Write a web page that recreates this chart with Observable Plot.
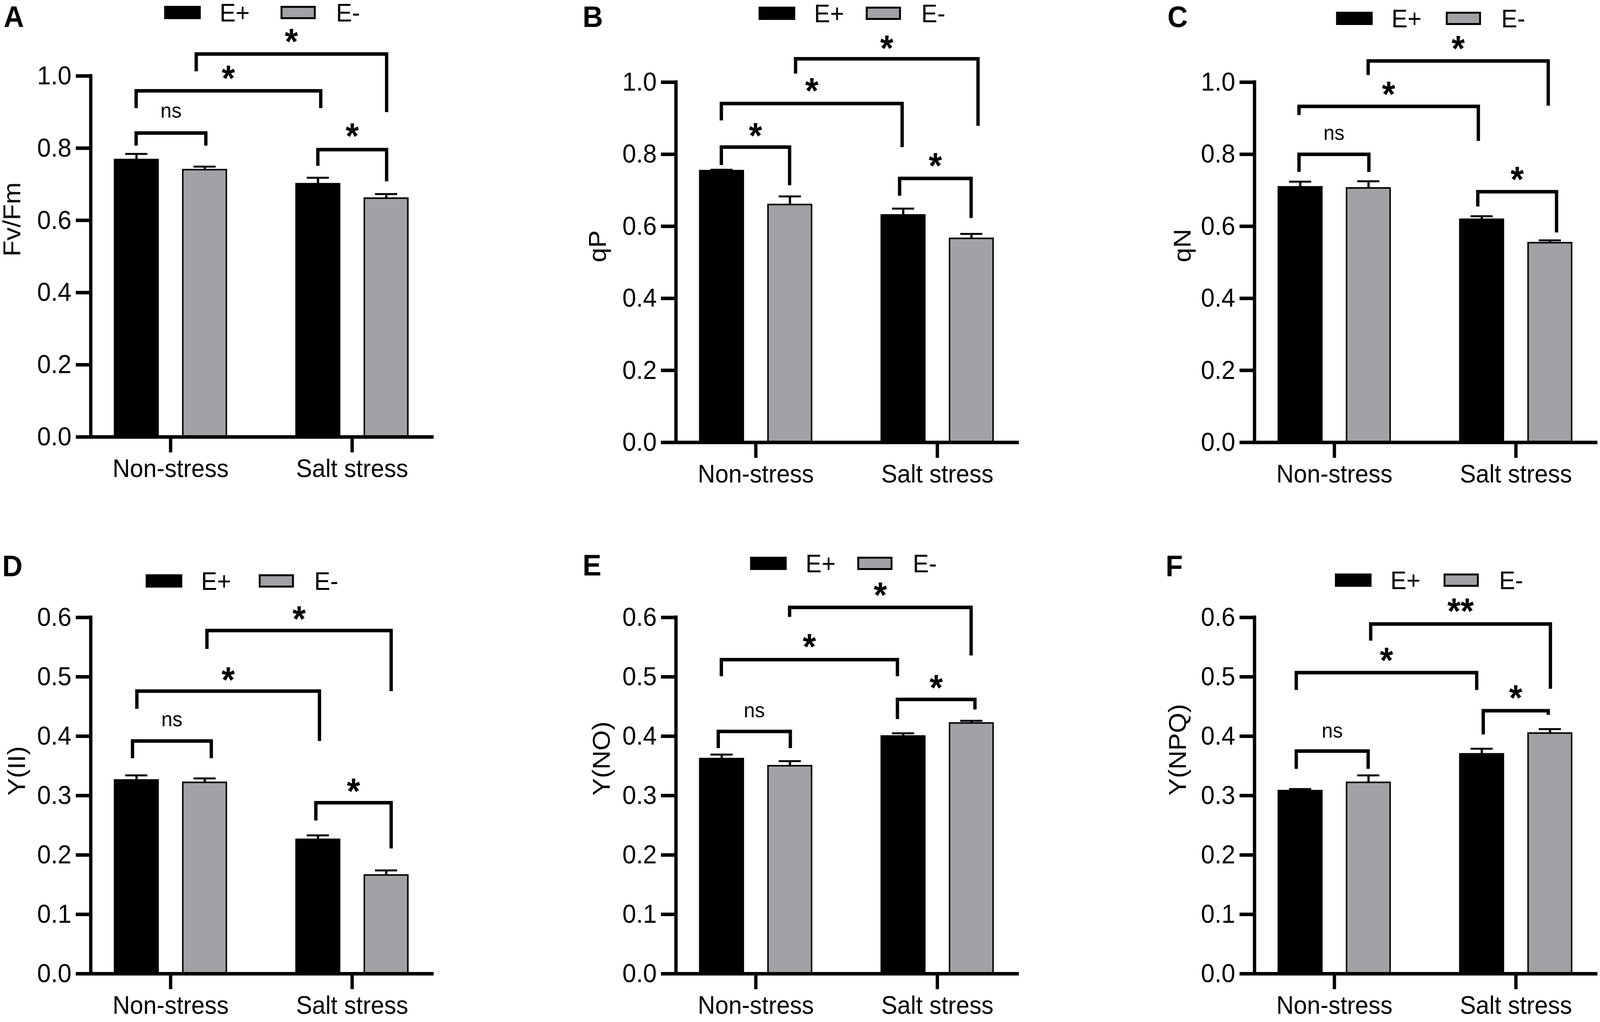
<!DOCTYPE html>
<html><head><meta charset="utf-8">
<script src="https://cdn.jsdelivr.net/npm/d3@7"></script>
<script src="https://cdn.jsdelivr.net/npm/@observablehq/plot@0.6"></script>
<style>
html,body{margin:0;padding:0;background:#fff;overflow:hidden;}
body{font-family:"Liberation Sans",Arial,sans-serif;}
#stage{position:absolute;left:0;top:0;width:4328px;height:2616px;transform-origin:0 0;background:#fff;}
.abs{position:absolute;line-height:1;white-space:nowrap;color:#000;}
.sw{position:absolute;box-sizing:border-box;}
</style></head><body>
<div id="stage"></div>
<script>
// ---------- data ----------
const groups = ["Non-stress", "Salt stress"];
const seriesNames = ["E+", "E-"];
const yTicksTop = [0, 0.2, 0.4, 0.6, 0.8, 1.0];
const yTicksBottom = [0, 0.1, 0.2, 0.3, 0.4, 0.5, 0.6];

// means per group [Non-stress, Salt stress] and SD (error bar length)
const fvfmEplus = [0.768, 0.701];  const fvfmEplusSD = [0.016, 0.017];
const fvfmEminus = [0.740, 0.661]; const fvfmEminusSD = [0.009, 0.012];
const qpEplus = [0.754, 0.631];    const qpEplusSD = [0.003, 0.018];
const qpEminus = [0.660, 0.566];   const qpEminusSD = [0.023, 0.013];
const qnEplus = [0.709, 0.619];    const qnEplusSD = [0.015, 0.009];
const qnEminus = [0.706, 0.554];   const qnEminusSD = [0.019, 0.007];
const y2Eplus = [0.326, 0.226];    const y2EplusSD = [0.008, 0.007];
const y2Eminus = [0.322, 0.166];   const y2EminusSD = [0.007, 0.008];
const ynoEplus = [0.362, 0.400];   const ynoEplusSD = [0.007, 0.005];
const ynoEminus = [0.350, 0.422];  const ynoEminusSD = [0.008, 0.004];
const ynpqEplus = [0.308, 0.370];  const ynpqEplusSD = [0.003, 0.009];
const ynpqEminus = [0.322, 0.405]; const ynpqEminusSD = [0.012, 0.007];

// significance brackets: [barA, barB, bracket level, leg end A, leg end B, label, label level]
// bar index: 0 Non-stress E+, 1 Non-stress E-, 2 Salt stress E+, 3 Salt stress E-
const fvfmBrackets = [[0,1,0.842,0.807,0.807,"ns",0.903],[0,2,0.959,0.911,0.911,"*",1.016],[1,3,1.061,1.013,0.900,"*",1.117],[2,3,0.796,0.751,0.708,"*",0.855]];
const qpBrackets   = [[0,1,0.820,0.770,0.714,"*",0.874],[0,2,0.941,0.894,0.820,"*",0.998],[1,3,1.065,1.024,0.879,"*",1.117],[2,3,0.733,0.685,0.623,"*",0.790]];
const qnBrackets   = [[0,1,0.800,0.751,0.751,"ns",0.859],[0,2,0.933,0.909,0.837,"*",0.989],[1,3,1.059,1.020,0.935,"*",1.115],[2,3,0.696,0.655,0.583,"*",0.752]];
const y2Brackets   = [[0,1,0.392,0.363,0.363,"ns",0.428],[0,2,0.476,0.446,0.392,"*",0.508],[1,3,0.578,0.547,0.476,"*",0.611],[2,3,0.288,0.258,0.211,"*",0.321]];
const ynoBrackets  = [[0,1,0.408,0.380,0.380,"ns",0.443],[0,2,0.529,0.501,0.501,"*",0.564],[1,3,0.617,0.601,0.536,"*",0.651],[2,3,0.462,0.429,0.445,"*",0.495]];
const ynpqBrackets = [[0,1,0.375,0.345,0.345,"ns",0.409],[0,2,0.507,0.478,0.478,"*",0.541],[1,3,0.589,0.561,0.480,"**",0.624],[2,3,0.443,0.403,0.436,"*",0.478]];

const panels = [
  {letter:"A", ylabel:"Fv/Fm",  ymax:1.0, ticks:yTicksTop,    ep:fvfmEplus, epSD:fvfmEplusSD, em:fvfmEminus, emSD:fvfmEminusSD, br:fvfmBrackets},
  {letter:"B", ylabel:"qP",     ymax:1.0, ticks:yTicksTop,    ep:qpEplus,   epSD:qpEplusSD,   em:qpEminus,   emSD:qpEminusSD,   br:qpBrackets},
  {letter:"C", ylabel:"qN",     ymax:1.0, ticks:yTicksTop,    ep:qnEplus,   epSD:qnEplusSD,   em:qnEminus,   emSD:qnEminusSD,   br:qnBrackets},
  {letter:"D", ylabel:"Y(II)",  ymax:0.6, ticks:yTicksBottom, ep:y2Eplus,   epSD:y2EplusSD,   em:y2Eminus,   emSD:y2EminusSD,   br:y2Brackets},
  {letter:"E", ylabel:"Y(NO)",  ymax:0.6, ticks:yTicksBottom, ep:ynoEplus,  epSD:ynoEplusSD,  em:ynoEminus,  emSD:ynoEminusSD,  br:ynoBrackets},
  {letter:"F", ylabel:"Y(NPQ)", ymax:0.6, ticks:yTicksBottom, ep:ynpqEplus, epSD:ynpqEplusSD, em:ynpqEminus, emSD:ynpqEminusSD, br:ynpqBrackets}
];

// ---------- layout (pixels / styling) ----------
const layout = [
  {axisX:245,  top:194,  bottom:1118, svgTop:0,    legBlack:444,  legGray:759,  legTop:15,   letterX:10,   letterCY:42,   ylab:-212, nudges:[[-0.002,0.006],[-0.002,0.015],[-0.047,0.002],[-0.001,0.002]]},
  {axisX:1828, top:210,  bottom:1132, svgTop:0,    legBlack:2052, legGray:2342, legTop:17,   letterX:1576, letterCY:42,   ylab:-211, nudges:[[-0.002,-0.002],[-0.002,-0.006],[0.031,0.036],[-0.02,-0.002]]},
  {axisX:3393, top:210,  bottom:1132, svgTop:0,    legBlack:3614, legGray:3911, legTop:30,   letterX:3158, letterCY:42,   ylab:-194, nudges:[[-0.007,0.002],[-0.007,-0.019],[-0.002,-0.01],[-0.022,0.036]]},
  {axisX:245,  top:1580, bottom:2492, svgTop:1350, legBlack:394,  legGray:700,  legTop:1470, letterX:6,    letterCY:1448, ylab:-199, nudges:[[-0.022,0.036],[0.002,0.008],[0.012,0.027],[-0.012,0.027]]},
  {axisX:1828, top:1580, bottom:2492, svgTop:1350, legBlack:2029, legGray:2319, legTop:1425, letterX:1576, letterCY:1446, ylab:-201, nudges:[[-0.019,0.002],[-0.002,-0.032],[-0.002,-0.002],[-0.032,0.019]]},
  {axisX:3393, top:1580, bottom:2492, svgTop:1350, legBlack:3611, legGray:3905, legTop:1468, letterX:3153, letterCY:1448, ylab:-207, nudges:[[-0.022,-0.002],[-0.022,-0.028],[0.012,0.002],[0.008,-0.01]]}
];

const FONT = "'Liberation Sans', Arial, Helvetica, sans-serif";
const GRAY = "#a2a2a6";
const xmin = -0.44, xmax = 1.45, unitPx = 491;
const barOffset = [-0.188, 0.188];
const barW = 0.24, capHalf = 0.061;
const ML = 245, frameW = Math.round((xmax - xmin) * unitPx);

const stage = document.getElementById("stage");
function fitStage() {
  const sx = window.innerWidth / 4328, sy = window.innerHeight / 2616;
  stage.style.transform = "scale(" + sx + "," + sy + ")";
}
fitStage();
window.addEventListener("resize", fitStage);

function barPos(i) { return Math.floor(i / 2) + barOffset[i % 2]; }

function addDiv(cls, left, top, css, text) {
  const d = document.createElement("div");
  d.className = cls;
  d.style.left = left + "px"; d.style.top = top + "px";
  Object.assign(d.style, css || {});
  if (text != null) d.textContent = text;
  stage.appendChild(d);
  return d;
}

panels.forEach((p, pi) => {
  const L = layout[pi];
  const bars = [];
  groups.forEach((g, gi) => {
    bars.push({g, s: "E+", pos: gi + barOffset[0], v: p.ep[gi], sd: p.epSD[gi]});
    bars.push({g, s: "E-", pos: gi + barOffset[1], v: p.em[gi], sd: p.emSD[gi]});
  });
  const bk = p.br.map(([a, b, yh, ya, yb, label, ly], k) => {
    const [na, nb] = L.nudges[k];
    const xa = barPos(a) + na, xb = barPos(b) + nb;
    return {id: k, xa, xb, yh, ya, yb, label, ly, xm: (xa + xb) / 2};
  });
  const pts = bk.flatMap(d => [
    {id: d.id, x: d.xa, y: d.ya}, {id: d.id, x: d.xa, y: d.yh},
    {id: d.id, x: d.xb, y: d.yh}, {id: d.id, x: d.xb, y: d.yb}
  ]);
  const marginTop = L.top - L.svgTop;
  const frameH = L.bottom - L.top;
  const marginBottom = L.svgTop === 0 ? 160 : 2616 - L.bottom;
  const starFs = 92;

  const chart = Plot.plot({
    width: ML + frameW + 5,
    height: marginTop + frameH + marginBottom,
    marginLeft: ML, marginRight: 5, marginTop, marginBottom,
    style: {fontFamily: FONT, background: "transparent", overflow: "visible", color: "#000", maxWidth: "none"},
    x: {domain: [xmin, xmax]},
    y: {domain: [0, p.ymax]},
    marks: [
      Plot.rectY(bars.filter(d => d.s === "E+"), {x1: d => d.pos - barW / 2, x2: d => d.pos + barW / 2, y1: 0, y2: "v", fill: "#000", stroke: "#000", strokeWidth: 4}),
      Plot.rectY(bars.filter(d => d.s === "E-"), {x1: d => d.pos - barW / 2, x2: d => d.pos + barW / 2, y1: 0, y2: "v", fill: GRAY, stroke: "#000", strokeWidth: 4}),
      Plot.ruleX(bars, {x: "pos", y1: "v", y2: d => d.v + d.sd, stroke: "#000", strokeWidth: 6}),
      Plot.ruleY(bars, {y: d => d.v + d.sd, x1: d => d.pos - capHalf, x2: d => d.pos + capHalf, stroke: "#000", strokeWidth: 5}),
      Plot.line(pts, {x: "x", y: "y", z: "id", stroke: "#000", strokeWidth: 9, strokeLinejoin: "miter", strokeLinecap: "butt", strokeMiterlimit: 10}),
      Plot.text(bk.filter(d => d.label === "ns"), {x: "xm", y: "ly", text: "label", fontSize: 54, lineAnchor: "middle", fill: "#000"}),
      Plot.text(bk.filter(d => d.label !== "ns"), {x: "xm", y: "ly", text: "label", fontSize: starFs, fontWeight: "bold", lineAnchor: "bottom", dy: 0.565 * starFs, fill: "#000"}),
      Plot.axisY({ticks: p.ticks, tickFormat: d3.format(".1f"), tickSize: 40, tickPadding: 12, strokeWidth: 9, fontSize: 67, label: null, fill: "#000"}),
      Plot.axisX({ticks: [0, 1], tickFormat: i => groups[i], tickSize: 40, tickPadding: 16, strokeWidth: 9, fontSize: 65, label: null, fill: "#000"}),
      Plot.ruleX([xmin], {y1: 0, y2: p.ymax, stroke: "#000", strokeWidth: 9, strokeLinecap: "square"}),
      Plot.ruleY([0], {x1: xmin, x2: xmax, stroke: "#000", strokeWidth: 9}),
      Plot.text([p.ylabel], {frameAnchor: "left", dx: L.ylab, rotate: -90, fontSize: 67, fill: "#000", text: d => d})
    ]
  });
  const wrap = addDiv("abs", L.axisX - ML, L.svgTop, {});
  wrap.appendChild(chart);

  // panel letter
  addDiv("abs", L.letterX, L.letterCY - 0.488 * 76, {fontSize: "76px", fontWeight: "bold"}, p.letter);

  // legend
  const rc = L.legTop + 17;
  addDiv("sw", L.legBlack, L.legTop, {width: "99px", height: "34px", background: "#000"});
  addDiv("abs", L.legBlack + 150, rc - 0.488 * 65, {fontSize: "65px"}, seriesNames[0]);
  addDiv("sw", L.legGray, L.legTop, {width: "95px", height: "34px", background: GRAY, border: "5px solid #000"});
  addDiv("abs", L.legGray + 150, rc - 0.488 * 65, {fontSize: "65px"}, seriesNames[1]);
});
</script>
</body></html>
